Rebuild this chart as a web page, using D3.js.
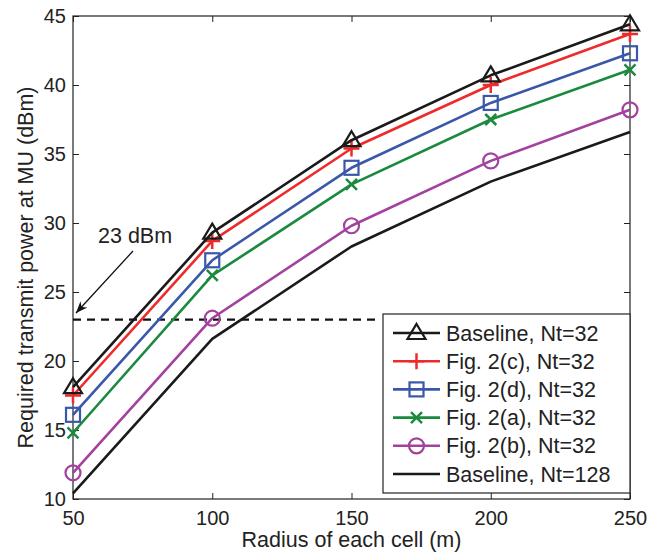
<!DOCTYPE html>
<html>
<head>
<meta charset="utf-8">
<script src="https://cdn.jsdelivr.net/npm/d3@7"></script>
<style>
  body { margin: 0; background: #fff; }
  svg { font-family: "Liberation Sans", Arial, sans-serif; }
</style>
</head>
<body>
<svg id="chart"></svg>
<script>
// data
const radius = [50, 100, 150, 200, 250];
const baseline32 = [18.1, 29.3, 36.0, 40.7, 44.4];
const fig2c32 = [17.5, 28.7, 35.4, 40.0, 43.7];
const fig2d32 = [16.1, 27.3, 34.0, 38.7, 42.3];
const fig2a32 = [14.8, 26.2, 32.8, 37.5, 41.1];
const fig2b32 = [11.9, 23.1, 29.8, 34.5, 38.2];
const baseline128 = [10.4, 21.6, 28.3, 33.0, 36.6];
const xTicks = [50, 100, 150, 200, 250];
const yTicks = [10, 15, 20, 25, 30, 35, 40, 45];
const limitDbm = 23;
const limitEnd = 160;

const series = [
  {name: "Baseline, Nt=32", values: baseline32, color: "#1a1a1a", marker: "triangle"},
  {name: "Fig. 2(c), Nt=32", values: fig2c32, color: "#ef2a2a", marker: "plus"},
  {name: "Fig. 2(d), Nt=32", values: fig2d32, color: "#3a58aa", marker: "square"},
  {name: "Fig. 2(a), Nt=32", values: fig2a32, color: "#1b8a3f", marker: "cross"},
  {name: "Fig. 2(b), Nt=32", values: fig2b32, color: "#a3419f", marker: "circle"},
  {name: "Baseline, Nt=128", values: baseline128, color: "#1a1a1a", marker: null}
];

const W = 667, H = 555;
const margin = {top: 16, right: 37, bottom: 56, left: 73};
const width = W - margin.left - margin.right,
      height = H - margin.top - margin.bottom;
const textColor = "#222";

const svg = d3.select("#chart").attr("width", W).attr("height", H);
const chart = svg.append("g")
    .attr("transform", "translate(" + margin.left + "," + margin.top + ")");

const x = d3.scaleLinear().domain([50, 250]).range([0, width]);
const y = d3.scaleLinear().domain([10, 45]).range([height, 0]);

// axes, ticks pointing inward, box on all sides
const tickLen = 6;
chart.append("g")
    .attr("transform", "translate(0," + height + ")")
    .call(d3.axisBottom(x).tickValues(xTicks).tickSizeInner(-tickLen).tickSizeOuter(0).tickPadding(12))
    .call(g => g.select(".domain").remove());
chart.append("g")
    .call(d3.axisLeft(y).tickValues(yTicks).tickSizeInner(-tickLen).tickSizeOuter(0).tickPadding(7))
    .call(g => g.select(".domain").remove());
chart.append("g")
    .call(d3.axisTop(x).tickValues(xTicks).tickSizeInner(-tickLen).tickSizeOuter(0).tickFormat(""))
    .call(g => g.select(".domain").remove());
chart.append("g")
    .attr("transform", "translate(" + width + ",0)")
    .call(d3.axisRight(y).tickValues(yTicks).tickSizeInner(-tickLen).tickSizeOuter(0).tickFormat(""))
    .call(g => g.select(".domain").remove());

chart.selectAll(".tick text").attr("font-size", 20).attr("fill", textColor)
    .attr("font-family", "Liberation Sans, Arial, sans-serif");
chart.selectAll(".tick line").attr("stroke", textColor);

chart.append("rect")
    .attr("width", width).attr("height", height)
    .attr("fill", "none").attr("stroke", textColor).attr("stroke-width", 1.2);

// 23 dBm reference
chart.append("line")
    .attr("x1", x(50)).attr("x2", x(limitEnd))
    .attr("y1", y(limitDbm)).attr("y2", y(limitDbm))
    .attr("stroke", "#111").attr("stroke-width", 2.2)
    .attr("stroke-dasharray", "8,6");

// markers
function drawMarker(g, type, color, cx, cy) {
  if (type === "triangle") {
    g.append("path")
      .attr("d", "M" + cx + "," + (cy - 9) + "L" + (cx + 9) + "," + (cy + 6) + "L" + (cx - 9) + "," + (cy + 6) + "Z")
      .attr("fill", "none").attr("stroke", color).attr("stroke-width", 2.2);
  } else if (type === "plus") {
    g.append("path")
      .attr("d", "M" + (cx - 8) + "," + cy + "H" + (cx + 8) + "M" + cx + "," + (cy - 8) + "V" + (cy + 8))
      .attr("stroke", color).attr("stroke-width", 2.5);
  } else if (type === "square") {
    g.append("rect")
      .attr("x", cx - 7).attr("y", cy - 7).attr("width", 14).attr("height", 14)
      .attr("fill", "none").attr("stroke", color).attr("stroke-width", 2.2);
  } else if (type === "cross") {
    g.append("path")
      .attr("d", "M" + (cx - 5.5) + "," + (cy - 5.5) + "L" + (cx + 5.5) + "," + (cy + 5.5) +
                 "M" + (cx - 5.5) + "," + (cy + 5.5) + "L" + (cx + 5.5) + "," + (cy - 5.5))
      .attr("stroke", color).attr("stroke-width", 2.5);
  } else if (type === "circle") {
    g.append("circle")
      .attr("cx", cx).attr("cy", cy).attr("r", 7.5)
      .attr("fill", "none").attr("stroke", color).attr("stroke-width", 2.2);
  }
}

const line = d3.line()
    .x((d, i) => x(radius[i]))
    .y(d => y(d));

// draw bottom-most first so black triangle line sits on top
series.slice().reverse().forEach(s => {
  chart.append("path")
    .datum(s.values)
    .attr("d", line)
    .attr("fill", "none")
    .attr("stroke", s.color)
    .attr("stroke-width", 2.6)
    .attr("stroke-linejoin", "round");
  if (s.marker) {
    const mg = chart.append("g");
    s.values.forEach((v, i) => drawMarker(mg, s.marker, s.color, x(radius[i]), y(v)));
  }
});

// annotation
chart.append("text")
    .attr("x", 98 - margin.left).attr("y", 243 - margin.top)
    .attr("font-size", 21.5).attr("fill", textColor)
    .text("23 dBm");
svg.append("defs").append("marker")
    .attr("id", "arrow").attr("viewBox", "0 0 10 10")
    .attr("refX", 10).attr("refY", 5)
    .attr("markerWidth", 9).attr("markerHeight", 9)
    .attr("orient", "auto")
  .append("path").attr("d", "M0,1L10,5L0,9L3,5Z").attr("fill", "#111");
chart.append("line")
    .attr("x1", 133 - margin.left).attr("y1", 251 - margin.top)
    .attr("x2", 76 - margin.left).attr("y2", 313 - margin.top)
    .attr("stroke", "#111").attr("stroke-width", 1.3)
    .attr("marker-end", "url(#arrow)");

// legend
const lx = 383 - margin.left, ly = 314 - margin.top;
const legend = chart.append("g").attr("transform", "translate(" + lx + "," + ly + ")");
legend.append("rect")
    .attr("width", 247).attr("height", 179)
    .attr("fill", "#fff").attr("stroke", textColor).attr("stroke-width", 1.2);
series.forEach((s, i) => {
  const ry = 19 + i * 28.2;
  legend.append("line")
    .attr("x1", 10).attr("x2", 57).attr("y1", ry).attr("y2", ry)
    .attr("stroke", s.color).attr("stroke-width", 2.6);
  if (s.marker) drawMarker(legend, s.marker, s.color, 33.5, ry);
  legend.append("text")
    .attr("x", 63).attr("y", ry + 7.5)
    .attr("font-size", 21.5).attr("fill", textColor)
    .text(s.name);
});

// axis labels
svg.append("text")
    .attr("x", margin.left + width / 2).attr("y", 547)
    .attr("text-anchor", "middle").attr("font-size", 21.5).attr("fill", textColor)
    .text("Radius of each cell (m)");
svg.append("text")
    .attr("transform", "translate(33," + (margin.top + height / 2 + 10) + ") rotate(-90)")
    .attr("text-anchor", "middle").attr("font-size", 21.5).attr("fill", textColor)
    .text("Required transmit power at MU (dBm)");
</script>
</body>
</html>
